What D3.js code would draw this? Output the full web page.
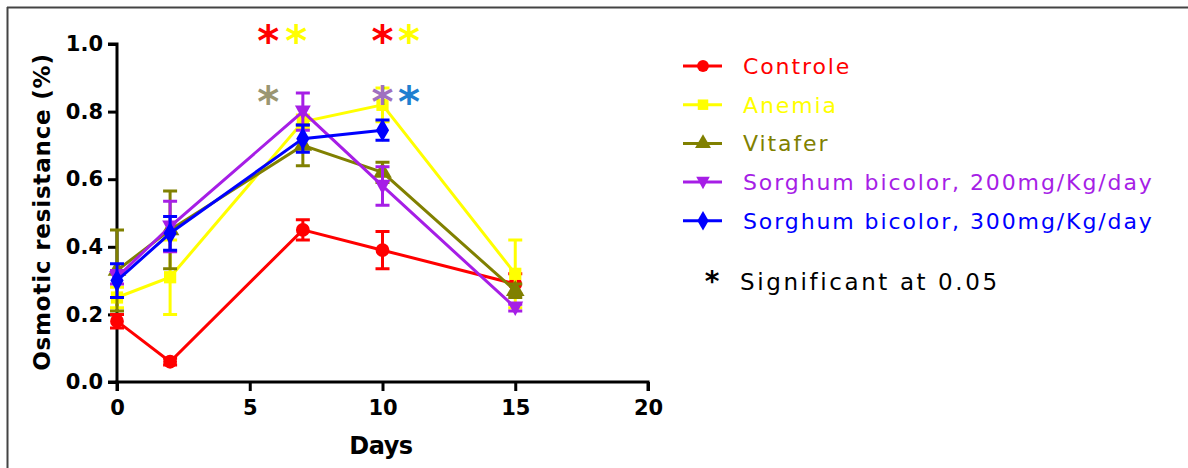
<!DOCTYPE html>
<html>
<head>
<meta charset="utf-8">
<script src="https://cdn.jsdelivr.net/npm/d3@7"></script>
<style>
  html, body { margin: 0; padding: 0; background: #fff; }
  svg { display: block; }
</style>
</head>
<body>
<svg id="chart" width="1188" height="468"></svg>
<script>
// Sampling days
const days = [0, 2, 7, 10, 15];

// Mean osmotic resistance per group (fraction) and standard errors
const controle      = [0.18, 0.06, 0.45, 0.39, 0.29];
const controleErr   = [0.02, 0.01, 0.03, 0.055, 0.03];
const anemia        = [0.25, 0.31, 0.77, 0.82, 0.32];
const anemiaErr     = [0.03, 0.11, 0.02, 0.05, 0.10];
const vitafer       = [0.33, 0.45, 0.70, 0.62, 0.27];
const vitaferErr    = [0.12, 0.115, 0.06, 0.03, 0.02];
const sorghum200    = [0.31, 0.46, 0.80, 0.58, 0.22];
const sorghum200Err = [0.02, 0.075, 0.055, 0.057, 0.01];
const sorghum300    = [0.30, 0.44, 0.72, 0.745];
const sorghum300Err = [0.05, 0.05, 0.04, 0.03];

// Axis ticks
const xTicks = [0, 5, 10, 15, 20];
const yTicks = [0.0, 0.2, 0.4, 0.6, 0.8, 1.0];

// Significance markers: [day, level, group]
const sigDays   = [5.7, 6.75, 5.7, 10, 11.0, 10, 11.0];
const sigLevels = [1.03, 1.03, 0.85, 1.03, 1.03, 0.85, 0.85];
const sigGroups = ["Controle", "Anemia", "Vitafer", "Controle", "Anemia", "Sorghum200", "Sorghum300"];

const groups = [
  { key: "Controle",   label: "Controle",                         color: "#ff0000", symbol: d3.symbolCircle,   mean: controle,   err: controleErr },
  { key: "Anemia",     label: "Anemia",                           color: "#ffff00", symbol: d3.symbolSquare,   mean: anemia,     err: anemiaErr },
  { key: "Vitafer",    label: "Vitafer",                          color: "#808000", symbol: d3.symbolTriangle, mean: vitafer,    err: vitaferErr },
  { key: "Sorghum200", label: "Sorghum bicolor, 200mg/Kg/day",    color: "#a61ee6", symbol: "down",            mean: sorghum200, err: sorghum200Err },
  { key: "Sorghum300", label: "Sorghum bicolor, 300mg/Kg/day",    color: "#0000ff", symbol: d3.symbolDiamond,  mean: sorghum300, err: sorghum300Err }
];
const starColors = { Controle: "#ff0000", Anemia: "#ffff00", Vitafer: "#9a9672", Sorghum200: "#a070c0", Sorghum300: "#1f7fd0" };

const svg = d3.select("#chart");

// Outer frame (top and left edges)
svg.append("line").attr("x1", 7).attr("x2", 1188).attr("y1", 7.5).attr("y2", 7.5).attr("stroke", "#444").attr("stroke-width", 2);
svg.append("line").attr("x1", 7.5).attr("x2", 7.5).attr("y1", 7).attr("y2", 468).attr("stroke", "#444").attr("stroke-width", 2);

const x = d3.scaleLinear().domain([0, 20]).range([117, 648]);
const y = d3.scaleLinear().domain([0, 1]).range([382, 44]);

const tickFont = "'DejaVu Sans', sans-serif";

// Axes
const xAxis = svg.append("g").attr("transform", "translate(0,382)")
  .call(d3.axisBottom(x).tickValues(xTicks).tickFormat(d3.format("d")).tickSize(9).tickPadding(9));
const yAxis = svg.append("g").attr("transform", "translate(117,0)")
  .call(d3.axisLeft(y).tickValues(yTicks).tickFormat(d3.format(".1f")).tickSize(9).tickPadding(5));
[xAxis, yAxis].forEach(g => {
  g.select(".domain").attr("stroke", "#000").attr("stroke-width", 3);
  g.selectAll(".tick line").attr("stroke", "#000").attr("stroke-width", 3);
  g.selectAll(".tick text").attr("fill", "#000")
    .style("font-family", tickFont).style("font-weight", "bold").style("font-size", "21px");
});
xAxis.select(".domain").attr("d", `M${x(0)},9V0H${x(20)}V9`);
yAxis.select(".domain").attr("d", `M-9,${y(1)}H0V${y(0)}H-9`);

// Axis titles
svg.append("text").attr("x", 381).attr("y", 454).attr("text-anchor", "middle")
  .style("font-family", tickFont).style("font-weight", "bold").style("font-size", "24px")
  .style("letter-spacing", "-0.5px").text("Days");
svg.append("text").attr("transform", "translate(50,212) rotate(-90)").attr("text-anchor", "middle")
  .style("font-family", tickFont).style("font-weight", "bold").style("font-size", "23px")
  .style("letter-spacing", "0.8px")
  .text("Osmotic resistance (%)");

// Marker path generator
function markerPath(sym, size) {
  if (sym === "down") {
    const h = Math.sqrt(size) * 1.1;
    return `M${-h / 1.7},${-h / 2.2}L${h / 1.7},${-h / 2.2}L0,${h / 1.6}Z`;
  }
  return d3.symbol().type(sym).size(size)();
}

const line = d3.line().x(d => x(d.day)).y(d => y(d.v));
const plot = svg.append("g");

groups.forEach(g => {
  const pts = g.mean.map((v, i) => ({ day: days[i], v, e: g.err[i] }));
  const gg = plot.append("g");
  gg.append("path").datum(pts).attr("d", line)
    .attr("fill", "none").attr("stroke", g.color).attr("stroke-width", 3);
  // Error bars
  gg.selectAll("path.err").data(pts).join("path").attr("class", "err")
    .attr("d", d => {
      const cx = x(d.day), t = y(d.v + d.e), b = y(d.v - d.e);
      return `M${cx - 7},${t}H${cx + 7}M${cx},${t}V${b}M${cx - 7},${b}H${cx + 7}`;
    })
    .attr("fill", "none").attr("stroke", g.color).attr("stroke-width", 3);
  // Markers
  gg.selectAll("path.mk").data(pts).join("path").attr("class", "mk")
    .attr("transform", d => `translate(${x(d.day)},${y(d.v)})`)
    .attr("d", markerPath(g.symbol, 150))
    .attr("fill", g.color);
});

// Significance asterisks
svg.append("g").selectAll("text").data(sigDays.map((d, i) => ({ d, l: sigLevels[i], g: sigGroups[i] })))
  .join("text")
  .attr("x", d => x(d.d)).attr("y", d => y(d.l) + 22)
  .attr("text-anchor", "middle")
  .style("font-family", "'DejaVu Sans', sans-serif").style("font-size", "42px").style("font-weight", "bold")
  .attr("fill", d => starColors[d.g]).text("*");

// Legend
const legend = svg.append("g").attr("transform", "translate(683,66)");
groups.forEach((g, i) => {
  const row = legend.append("g").attr("transform", `translate(0,${i * 38.7})`);
  row.append("line").attr("x1", 0).attr("x2", 39).attr("stroke", g.color).attr("stroke-width", 3);
  row.append("path").attr("transform", "translate(20,0)").attr("d", markerPath(g.symbol, 110)).attr("fill", g.color);
  row.append("text").attr("x", 60).attr("y", 8)
    .style("font-family", "'DejaVu Sans', sans-serif").style("font-size", "22px")
    .style("letter-spacing", "1.9px")
    .attr("fill", g.color).text(g.label);
});
legend.append("text").attr("x", 29).attr("y", 225).attr("text-anchor", "middle")
  .style("font-family", "'DejaVu Sans', sans-serif").style("font-size", "28px").style("font-weight", "bold")
  .attr("fill", "#000").text("*");
legend.append("text").attr("x", 57).attr("y", 224)
  .style("font-family", "'DejaVu Sans', sans-serif").style("font-size", "23px").attr("fill", "#000")
  .style("letter-spacing", "2.6px")
  .text("Significant at 0.05");
</script>
</body>
</html>
